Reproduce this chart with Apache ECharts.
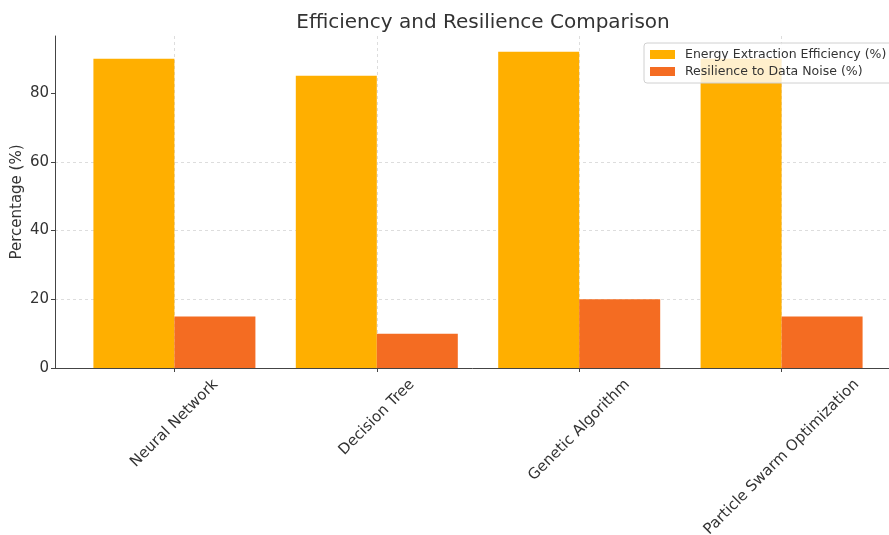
<!DOCTYPE html>
<html>
<head>
<meta charset="utf-8">
<script src="https://cdn.jsdelivr.net/npm/echarts@6/dist/echarts.min.js"></script>
<style>html,body{margin:0;padding:0;background:#fff}#c{width:889px;height:535px}</style>
</head>
<body>
<div id="c"></div>
<script>
const categories = ['Neural Network', 'Decision Tree', 'Genetic Algorithm', 'Particle Swarm Optimization'];
const efficiency = [90, 85, 92, 90];
const resilience = [15, 10, 20, 15];
const yTicks = [0, 20, 40, 60, 80];

const FONT = 'DejaVu Sans';
const LABEL_SIZE = 15;
const ctx = document.createElement('canvas').getContext('2d');
ctx.font = LABEL_SIZE + 'px "' + FONT + '"';
const rich = {};
categories.forEach((c, i) => {
  const w = ctx.measureText(c).width;
  const h = LABEL_SIZE * 1.15;
  const q = (w + h) / 2;
  rich['c' + i] = { fontFamily: FONT, fontSize: LABEL_SIZE, color: '#333', padding: [q, q, 0, 0] };
});
const xTickVals = categories.map((c, i) => i);

const chart = echarts.init(document.getElementById('c'));
chart.setOption({
  animation: false,
  textStyle: { fontFamily: FONT },
  title: {
    text: 'Efficiency and Resilience Comparison',
    left: 478, top: 8, textAlign: 'center',
    textStyle: { fontFamily: FONT, fontSize: 20, fontWeight: 'normal', color: '#333' }
  },
  legend: {
    left: 644, top: 43, orient: 'vertical',
    itemWidth: 25, itemHeight: 9, itemGap: 4,
    padding: [5, 6, 5, 6],
    backgroundColor: 'rgba(255,255,255,0.8)',
    borderColor: '#d0d0d0', borderWidth: 1, borderRadius: 3,
    icon: 'rect',
    textStyle: { fontFamily: FONT, fontSize: 12.5, color: '#333', padding: [0, 0, 0, 5] },
    data: ['Energy Extraction Efficiency (%)', 'Resilience to Data Noise (%)']
  },
  grid: { left: 55, top: 36, width: 846, height: 332, containLabel: false, outerBoundsMode: 'none' },
  xAxis: {
    type: 'value', min: -0.59, max: 3.59,
    axisLine: { show: true, onZero: false, lineStyle: { color: '#444', width: 1 } },
    axisTick: { show: true, customValues: xTickVals, length: 4, lineStyle: { color: '#444' } },
    axisLabel: {
      customValues: xTickVals, rotate: 45, align: 'center', verticalAlign: 'middle', margin: 8,
      formatter: v => '{c' + v + '|' + categories[v] + '}', rich: rich,
      fontFamily: FONT, fontSize: LABEL_SIZE, color: '#333'
    },
    splitLine: { show: true, lineStyle: { color: '#d5d5d5', type: [3, 3], width: 0.8 } }
  },
  yAxis: {
    type: 'value', min: 0, max: 96.6, interval: 20,
    name: 'Percentage (%)', nameLocation: 'middle', nameGap: 30, nameMoveOverlap: false,
    nameTextStyle: { fontFamily: FONT, fontSize: 15, color: '#333' },
    axisLine: { show: true, onZero: false, lineStyle: { color: '#444', width: 1 } },
    axisTick: { show: true, customValues: yTicks, length: 4, lineStyle: { color: '#444' } },
    axisLabel: { customValues: yTicks, fontFamily: FONT, fontSize: 15, color: '#333', margin: 6 },
    splitLine: { show: true, showMaxLine: false, lineStyle: { color: '#d5d5d5', type: [3, 3], width: 0.8 } }
  },
  series: [
    {
      name: 'Energy Extraction Efficiency (%)', type: 'bar', barWidth: 81, barGap: '0%',
      itemStyle: { color: '#FFAF00' },
      data: efficiency.map((v, i) => [i, v])
    },
    {
      name: 'Resilience to Data Noise (%)', type: 'bar', barWidth: 81, barGap: '0%',
      itemStyle: { color: '#F46C22' },
      data: resilience.map((v, i) => [i, v])
    }
  ]
});
</script>
</body>
</html>
